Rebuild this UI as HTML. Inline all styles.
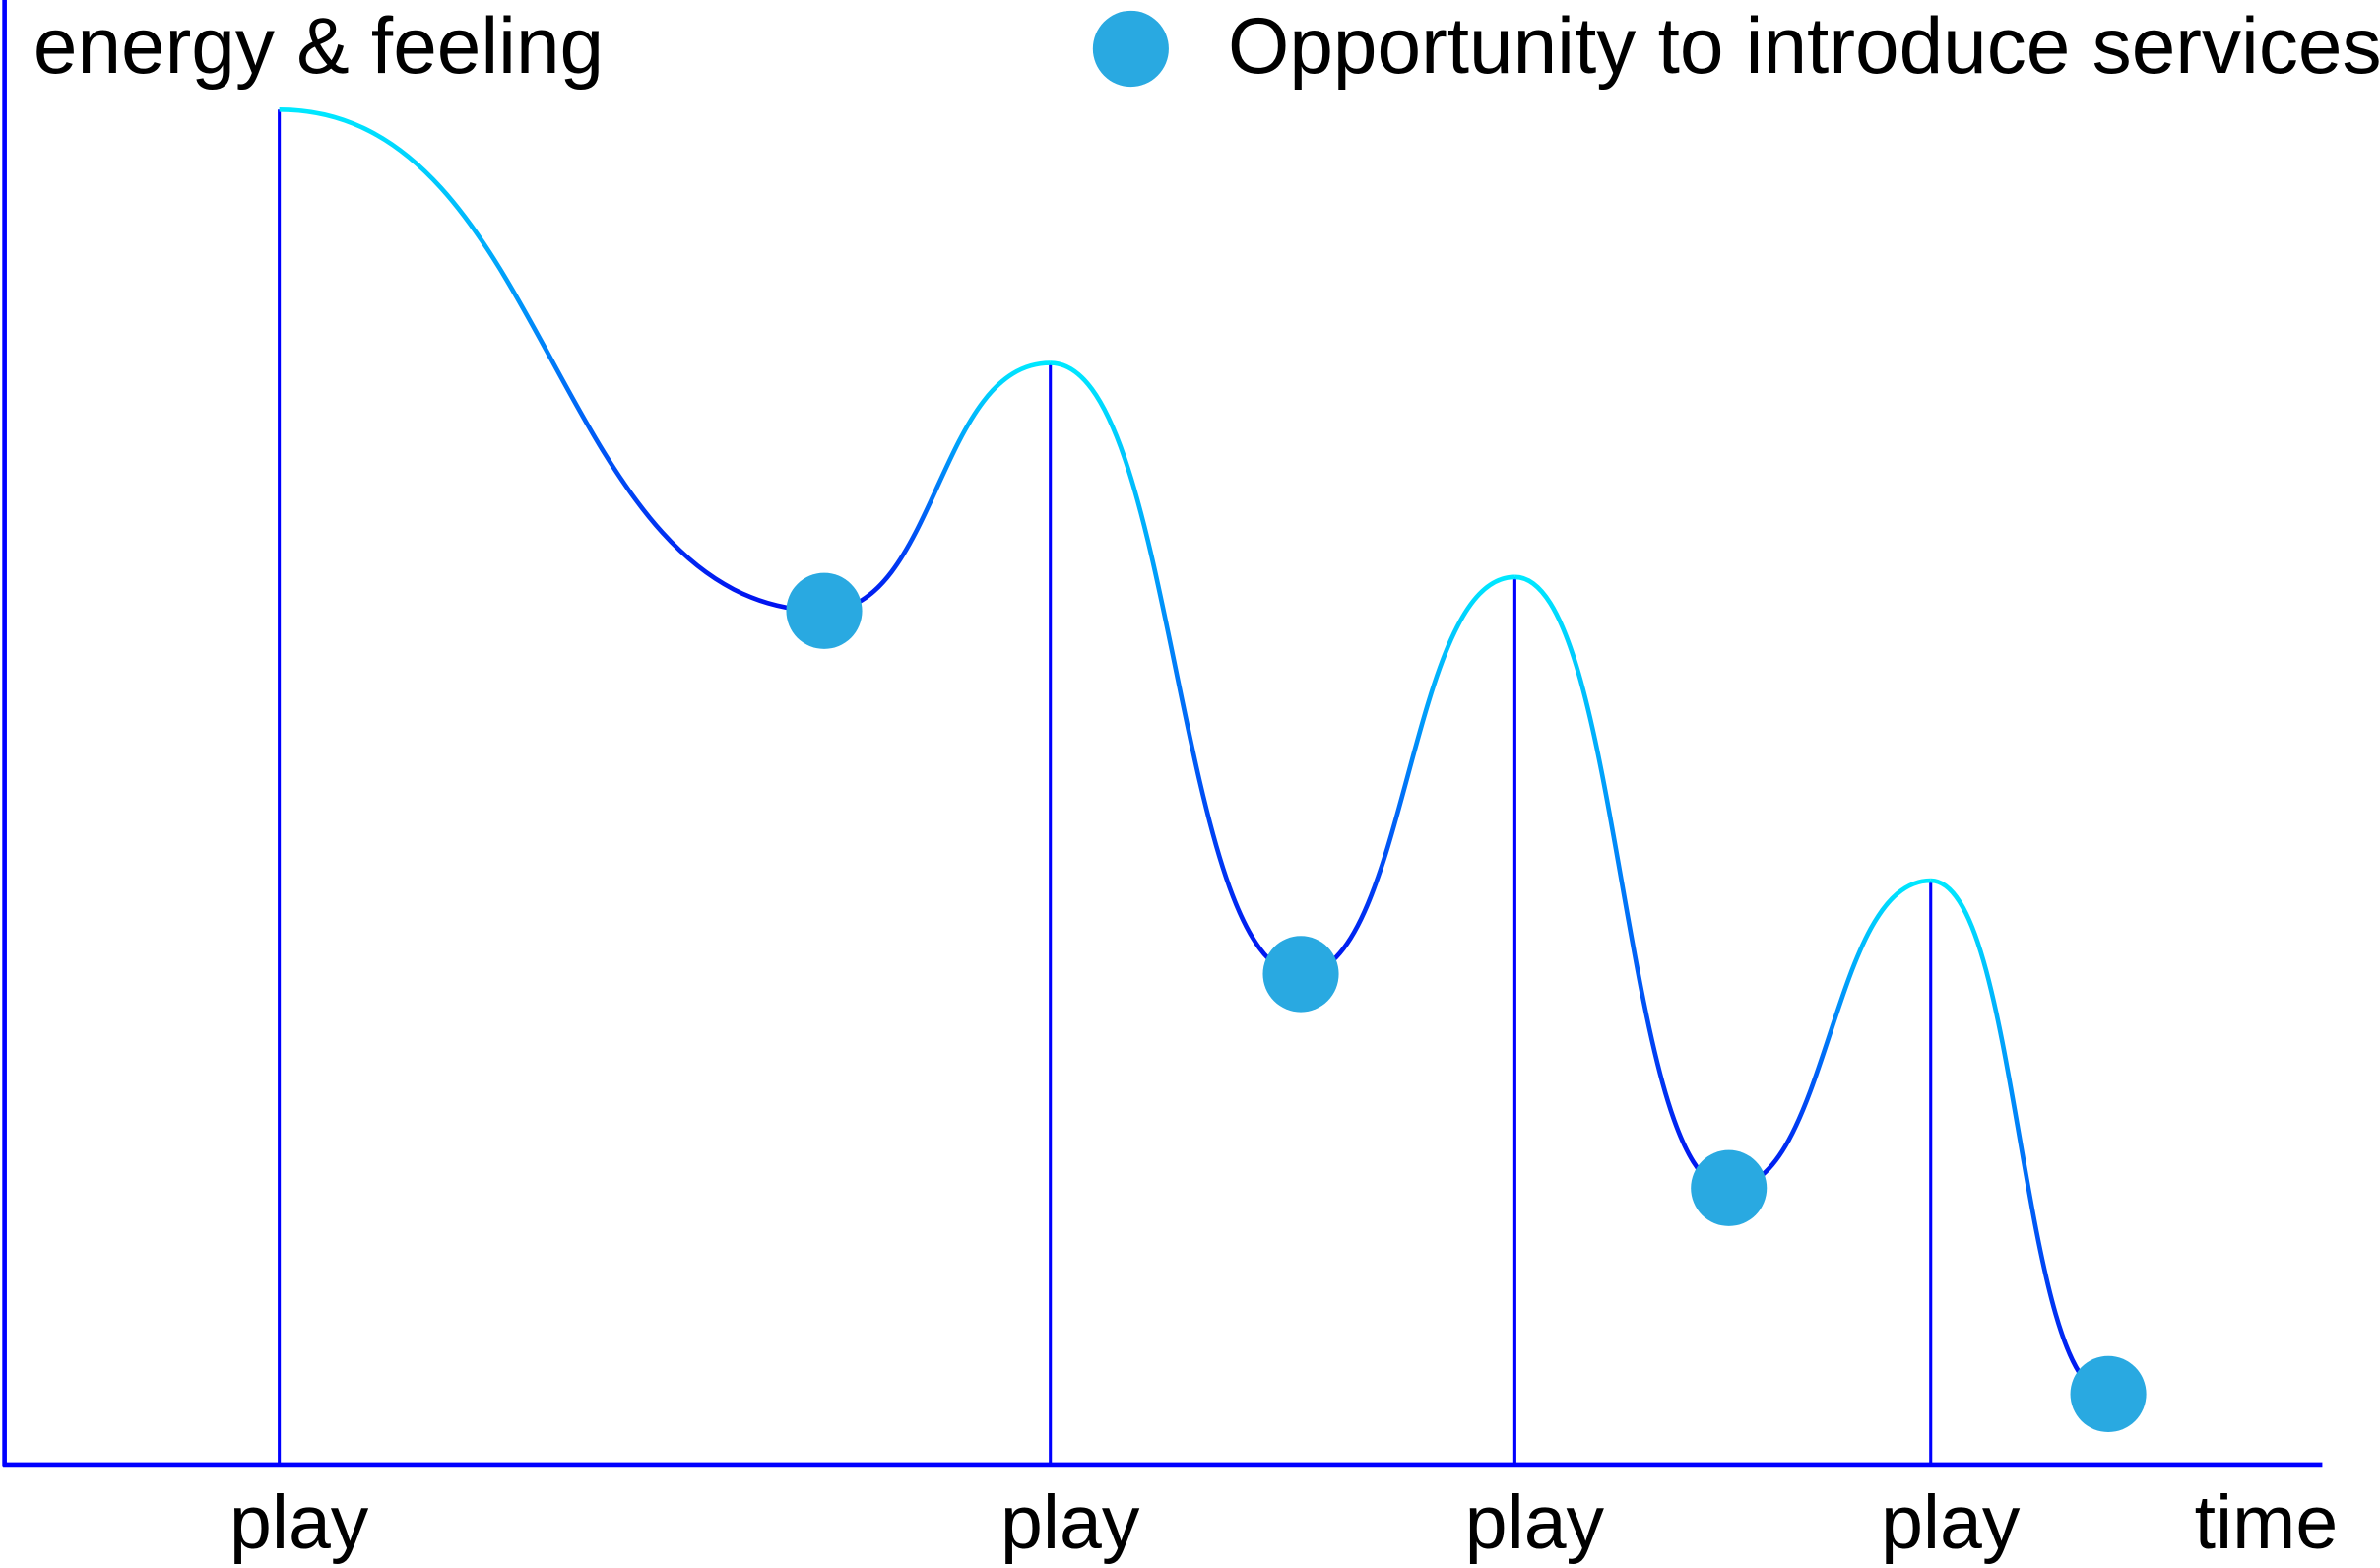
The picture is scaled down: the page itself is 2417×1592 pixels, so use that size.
<!DOCTYPE html>
<html><head><meta charset="utf-8"><style>
html,body{margin:0;padding:0;background:#fff;}
svg{display:block;}
text{font-family:"Liberation Sans",sans-serif;fill:#000;}
</style></head><body>
<svg id="chart" width="2417" height="1592" viewBox="0 0 1568 1030" preserveAspectRatio="none" xmlns="http://www.w3.org/2000/svg">
<defs id="defs"></defs>
<text x="22" y="48" font-size="52">energy &amp; feeling</text>
<circle cx="745" cy="32" r="25" fill="#29a9e1"/>
<text x="809" y="48" font-size="52">Opportunity to introduce services</text>
<line x1="3" y1="0" x2="3" y2="963" stroke="#0000ff" stroke-width="3"/>
<line x1="2" y1="962" x2="1530" y2="962" stroke="#0000ff" stroke-width="3"/>
<text x="1493" y="1017" font-size="50" text-anchor="middle">time</text>
<g id="marks"></g>
</svg>
<script>
// extrema of the curve: time (arbitrary units) and energy (0-100)
const times  = [18.4, 54.3, 69.2, 85.7, 99.8, 113.9, 127.2, 138.9];
const energy = [100, 63, 81.3, 36.2, 65.5, 20.4, 43.1, 5.2];
const kinds  = ["play","dot","play","dot","play","dot","play","dot"];
const playLabel = "play";

function xScale(t){ return t*10; }
function yScale(v){ return 962 - v*8.9; }

const NS="http://www.w3.org/2000/svg";
const marks=document.getElementById('marks');
const defs=document.getElementById('defs');

for(let i=0;i<times.length;i++){
  if(kinds[i]!=="play") continue;
  const x=xScale(times[i]), y=yScale(energy[i]);
  const l=document.createElementNS(NS,'line');
  
  
  l.setAttribute('x1',x);l.setAttribute('x2',x);
  l.setAttribute('y1',y);l.setAttribute('y2',962);
  l.setAttribute('stroke','#0000ff');l.setAttribute('stroke-width','2');
  marks.appendChild(l);
  const t=document.createElementNS(NS,'text');
  
  
  t.setAttribute('x',x+13);t.setAttribute('y',1017);
  t.setAttribute('font-size','50');t.setAttribute('text-anchor','middle');
  t.textContent=playLabel;
  marks.appendChild(t);
}

for(let i=0;i<times.length-1;i++){
  const x0=xScale(times[i]), y0=yScale(energy[i]);
  const x1=xScale(times[i+1]), y1=yScale(energy[i+1]);
  const g=document.createElementNS(NS,'linearGradient');
  const id='g'+i;
  g.setAttribute('id',id);g.setAttribute('gradientUnits','userSpaceOnUse');
  const top=Math.min(y0,y1), bot=Math.max(y0,y1);
  g.setAttribute('x1',0);g.setAttribute('x2',0);g.setAttribute('y1',top);g.setAttribute('y2',bot);
  const s1=document.createElementNS(NS,'stop');s1.setAttribute('offset','0');s1.setAttribute('stop-color','#00e8ff');
  const s2=document.createElementNS(NS,'stop');s2.setAttribute('offset','1');s2.setAttribute('stop-color','#0010f0');
  g.appendChild(s1);g.appendChild(s2);defs.appendChild(g);
  const dx=(x1-x0)*0.5;
  const p=document.createElementNS(NS,'path');
  
  
  p.setAttribute('d',`M${x0},${y0} C${x0+dx},${y0} ${x1-dx},${y1} ${x1},${y1}`);
  p.setAttribute('fill','none');p.setAttribute('stroke','url(#'+id+')');p.setAttribute('stroke-width','3');
  marks.appendChild(p);
}

for(let i=0;i<times.length;i++){
  if(kinds[i]!=="dot") continue;
  const c=document.createElementNS(NS,'circle');
  
  
  c.setAttribute('cx',xScale(times[i]));c.setAttribute('cy',yScale(energy[i]));
  c.setAttribute('r',25);c.setAttribute('fill','#29a9e1');
  marks.appendChild(c);
}
</script>
</body></html>
